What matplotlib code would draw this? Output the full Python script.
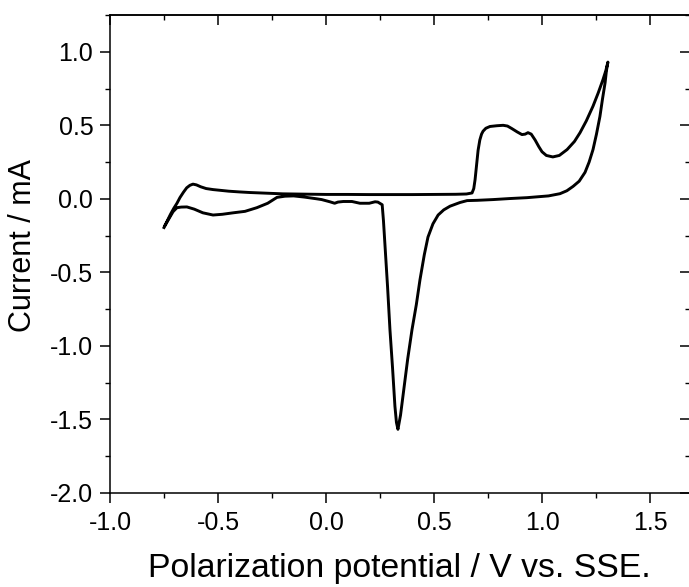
import matplotlib
matplotlib.use("Agg")
import matplotlib.pyplot as plt
from matplotlib.ticker import MultipleLocator

plt.rcParams['font.family'] = ['Liberation Sans', 'DejaVu Sans']

# Cyclic voltammogram, traced as one continuous path
potential = [
    -0.750, -0.735, -0.720, -0.705, -0.690, -0.676, -0.660, -0.645, -0.630, -0.616,
    -0.600, -0.580, -0.555, -0.523, -0.490, -0.450, -0.400, -0.352, -0.300, -0.250,
    -0.200, -0.100, 0.000, 0.100, 0.200, 0.300, 0.400, 0.500, 0.600, 0.650,
    0.676, 0.684, 0.690, 0.697, 0.704, 0.712, 0.720, 0.727, 0.740, 0.759,
    0.790, 0.820, 0.840, 0.860, 0.885, 0.907, 0.922, 0.935, 0.950, 0.968,
    0.985, 1.000, 1.020, 1.050, 1.080, 1.116, 1.150, 1.176, 1.205, 1.236,
    1.260, 1.282, 1.295, 1.305,
    1.298, 1.292, 1.280, 1.268, 1.252, 1.236, 1.218, 1.199, 1.172, 1.144,
    1.115, 1.083, 1.030, 0.930, 0.850, 0.773, 0.700, 0.653, 0.620, 0.574,
    0.545, 0.519, 0.495, 0.472, 0.455, 0.435, 0.418, 0.398, 0.378, 0.356,
    0.345, 0.333, 0.326, 0.319, 0.308, 0.296, 0.285, 0.273, 0.266, 0.260,
    0.240, 0.227, 0.200, 0.157, 0.120, 0.080, 0.055, 0.040, 0.018, -0.020,
    -0.042, -0.100, -0.150, -0.190, -0.227, -0.270, -0.320, -0.375, -0.430, -0.480,
    -0.523, -0.570, -0.610, -0.644, -0.670, -0.690, -0.708, -0.725, -0.745,
]
current = [
    -0.195, -0.150, -0.105, -0.065, -0.030, 0.009, 0.045, 0.075, 0.092, 0.100,
    0.095, 0.082, 0.070, 0.063, 0.058, 0.052, 0.047, 0.043, 0.040, 0.037,
    0.034, 0.032, 0.030, 0.030, 0.029, 0.029, 0.029, 0.030, 0.031, 0.033,
    0.040, 0.070, 0.130, 0.230, 0.330, 0.400, 0.440, 0.460, 0.480, 0.492,
    0.497, 0.500, 0.495, 0.478, 0.455, 0.437, 0.440, 0.450, 0.440, 0.400,
    0.355, 0.320, 0.295, 0.285, 0.295, 0.335, 0.390, 0.450, 0.530, 0.630,
    0.720, 0.810, 0.870, 0.930,
    0.870, 0.790, 0.680, 0.560, 0.440, 0.335, 0.250, 0.180, 0.120, 0.085,
    0.055, 0.035, 0.020, 0.008, 0.002, -0.005, -0.010, -0.012, -0.025, -0.050,
    -0.075, -0.110, -0.170, -0.260, -0.380, -0.550, -0.720, -0.890, -1.090, -1.340,
    -1.470, -1.567, -1.520, -1.410, -1.150, -0.890, -0.600, -0.320, -0.150, -0.040,
    -0.022, -0.020, -0.030, -0.030, -0.018, -0.018, -0.022, -0.030, -0.020, -0.005,
    0.000, 0.012, 0.020, 0.018, 0.010, -0.030, -0.060, -0.085, -0.095, -0.105,
    -0.110, -0.095, -0.070, -0.055, -0.056, -0.060, -0.087, -0.130, -0.180,
]

x_ticks = [-1.0, -0.5, 0.0, 0.5, 1.0, 1.5]
y_ticks = [-2.0, -1.5, -1.0, -0.5, 0.0, 0.5, 1.0]

fig = plt.figure(figsize=(6.89, 5.87), dpi=100)
W, H = 689, 587
left, right, top, bottom = 110, 690, 15, 493
ax = fig.add_axes([left / W, 1 - bottom / H, (right - left) / W, (bottom - top) / H])

ax.plot(potential, current, color='black', lw=2.1, solid_joinstyle='round')

ax.set_xlim(-1.0, 1.685)
ax.set_ylim(-2.0, 1.25)
ax.set_xticks(x_ticks)
ax.set_yticks(y_ticks)
ax.set_xticklabels([f"{v:.1f}" for v in x_ticks])
ax.set_yticklabels([f"{v:.1f}" for v in y_ticks])
ax.xaxis.set_minor_locator(MultipleLocator(0.25))
ax.yaxis.set_minor_locator(MultipleLocator(0.25))

for s in ax.spines.values():
    s.set_linewidth(1.1)

ax.tick_params(axis='both', which='major', labelsize=18, width=1.1, length=7, color='black')
ax.tick_params(axis='both', which='minor', width=1.0, length=3.5)
ax.tick_params(axis='x', which='both', direction='out', top=False, pad=6)
ax.tick_params(axis='y', which='both', direction='out', right=False, pad=5)

# top and right axes with inward ticks and no labels
axt = ax.secondary_xaxis('top')
axt.set_xticks(x_ticks)
axt.xaxis.set_minor_locator(MultipleLocator(0.25))
axt.tick_params(which='major', direction='in', length=7, width=1.1, labeltop=False)
axt.tick_params(which='minor', direction='in', length=3.5, width=1.0)
axt.spines['top'].set_linewidth(1.1)
axr = ax.secondary_yaxis('right')
axr.set_yticks(y_ticks)
axr.yaxis.set_minor_locator(MultipleLocator(0.25))
axr.tick_params(which='major', direction='in', length=7, width=1.1, labelright=False)
axr.tick_params(which='minor', direction='in', length=3.5, width=1.0)

ax.set_xlabel('Polarization potential / V vs. SSE.', fontsize=24.3)
ax.set_ylabel('Current / mA', fontsize=22)
ax.xaxis.set_label_coords((399 - left) / (right - left), (bottom - 569) / (bottom - top))
ax.xaxis.label.set_va('center')
ax.yaxis.set_label_coords((23 - left) / (right - left), (bottom - 245) / (bottom - top))
ax.yaxis.label.set_va('center')

fig.savefig('out.png', dpi=100)
